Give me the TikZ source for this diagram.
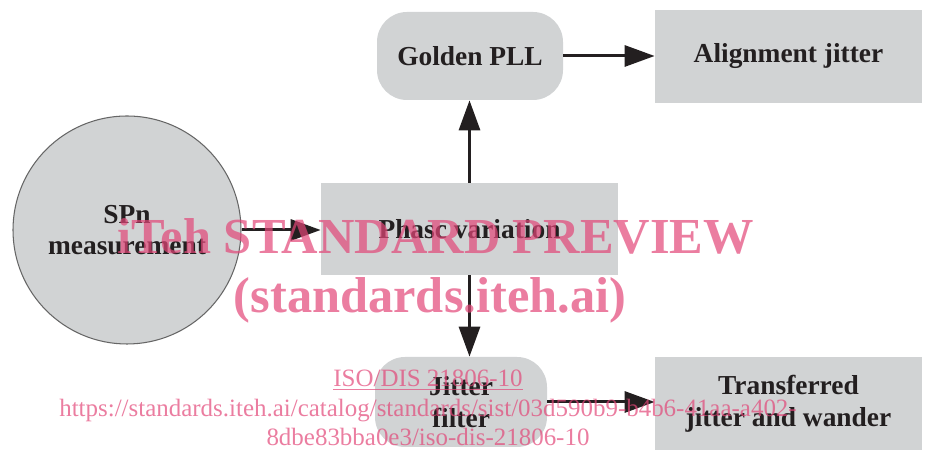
\documentclass[tikz,border=0pt]{standalone}
\usepackage{fontspec}
\setmainfont{Liberation Serif}
\usetikzlibrary{arrows.meta,positioning}
\definecolor{boxgray}{RGB}{209,211,212}
\definecolor{inkdark}{RGB}{35,31,32}
\definecolor{wmpink}{RGB}{226,70,120}
\begin{document}
\begin{tikzpicture}[x=0.2mm, y=0.2mm,
    label/.style={font=\fontsize{15.6}{18}\selectfont\bfseries, text=inkdark, align=center},
    blockbox/.style={label, fill=boxgray, inner sep=0pt},
    roundbox/.style={blockbox, rounded corners=6mm},
    flow/.style={-{Triangle[length=6mm,width=4.2mm]}, line width=1.7pt, draw=inkdark},
    stamp/.style={text=wmpink, opacity=0.7, align=center}]
    \useasboundingbox (0,0) rectangle (926,450);

    % Measurement and phase
    \node[label, circle, fill=boxgray, draw=gray!80!black, line width=0.6pt, minimum size=45.6mm] (meas) at (127,220) {SPn\\measurement};
    \node[blockbox, minimum width=59.4mm, minimum height=18.4mm] (phase) at (469.5,221) {Phasc variation};

    % Upper branch
    \node[roundbox, minimum width=37.2mm, minimum height=17.6mm] (golden) at (470,394) {Golden PLL};
    \node[blockbox, minimum width=53.4mm, minimum height=18.6mm] (align) at (788.5,393.5) {Alignment jitter};

    % Lower branch
    \node[roundbox, minimum width=34.4mm, minimum height=18mm] (filter) at (461,48) {Jitter\\filter};
    \node[blockbox, minimum width=53.4mm, minimum height=18.6mm] (trans) at (788.5,46.5) {Transferred\\jitter and wander};

    % Connectors
    \draw[flow] (meas.east) -- (meas.east -| phase.west);
    \draw[flow] (phase.north) -- (phase.north |- golden.south);
    \draw[flow] (golden.east) -- (golden.east -| align.west);
    \draw[flow] (phase.south) -- (phase.south |- filter.north);
    \draw[flow] (filter.east) -- (filter.east -| trans.west);

    % Watermark
    \node[stamp, font=\fontsize{28.7}{33}\selectfont\bfseries, anchor=base] (wmtitle) at (436,196) {iTeh STANDARD PREVIEW};
    \node[stamp, font=\fontsize{28.7}{33}\selectfont\bfseries, anchor=base] (wmsite) at (430,137) {(standards.iteh.ai)};
    \node[stamp, font=\fontsize{14.2}{16.7}\selectfont] (wmref) at (428,42) {\underline{ISO/DIS 21806-10}\\https://standards.iteh.ai/catalog/standards/sist/03d590b9-b4b6-41aa-a402-\\8dbe83bba0e3/iso-dis-21806-10};
\end{tikzpicture}
\end{document}
